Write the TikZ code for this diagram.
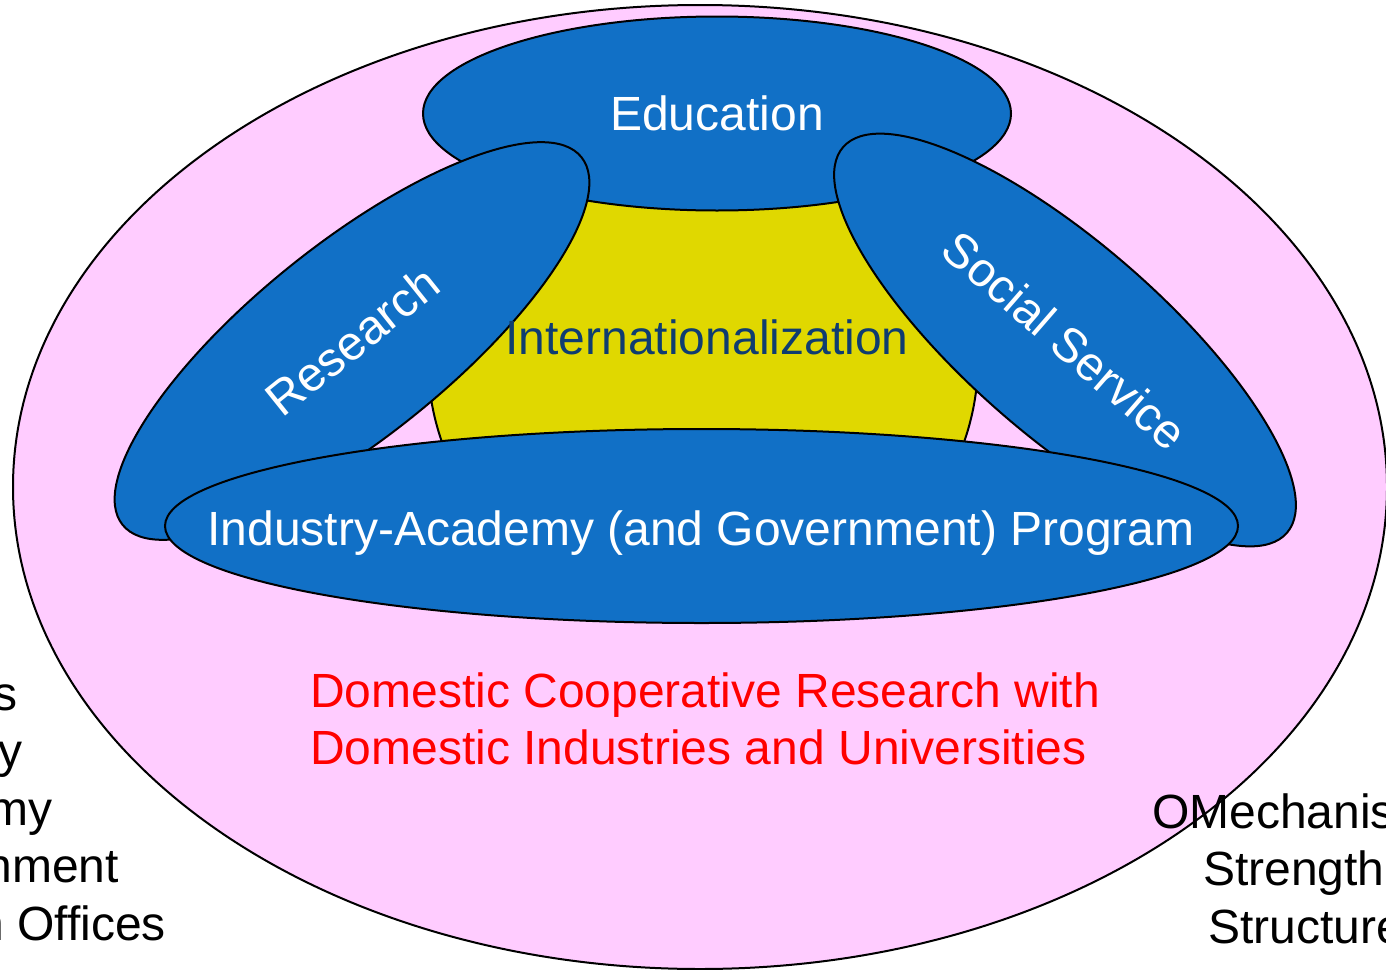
\documentclass[tikz,border=0pt]{standalone}
\usepackage{fontspec}
\setmainfont{Liberation Sans}
\usetikzlibrary{shapes.geometric}
\definecolor{ringpink}{HTML}{FFCCFF}
\definecolor{pillarblue}{HTML}{1170C6}
\definecolor{coreyellow}{HTML}{E0D800}
\definecolor{coretext}{HTML}{0F3D70}
\newcommand{\bigtext}{\fontsize{48}{57}\selectfont}

\begin{document}
\begin{tikzpicture}[x=1pt,y=1pt,
 blob/.style={ellipse,draw=black,line width=2pt,inner sep=0pt,font=\bigtext},
 pillar/.style={blob,fill=pillarblue,text=white,minimum width=588pt,minimum height=194pt},
 word/.style={inner sep=0pt,font=\bigtext}]
\useasboundingbox[fill=white] (0,0) rectangle (1386,-969);
% outer ring and the core behind the pillars
\node[blob,fill=ringpink,minimum width=1374pt,minimum height=964pt] (ring) at (700,-487) {};
\node[blob,fill=coreyellow,minimum width=550pt,minimum height=520pt] (core) at (703,-360) {};
\node[pillar] (edu) at (717,-113.5) {Education};
\node[pillar,rotate=38.7] (res) at (352,-341) {Research};
\node[pillar,rotate=-41] (soc) at (1065,-340) {Social Service};
\node[pillar,minimum width=1073pt] (ind) at (701.5,-526) {};
\node[word,text=white,anchor=base] (indtext) at (701,-545) {Industry-Academy (and Government) Program};
\node[word,text=coretext,anchor=base] (intl) at (707,-354) {Internationalization};
\node[word,text=red,anchor=base west] (dom1) at (310,-707) {Domestic Cooperative Research with};
\node[word,text=red,anchor=base west] (dom2) at (310,-764) {Domestic Industries and Universities};
% cut-off side texts
\node[word,anchor=base east] (l1) at (18,-710) {s};
\node[word,anchor=base east] (l2) at (23,-767) {y};
\node[word,anchor=base east] (l3) at (53,-825) {my};
\node[word,anchor=base east] (l4) at (119,-882) {nment};
\node[word,anchor=base east] (l5) at (166,-940) {n Offices};
\node[word,anchor=base west] (r1) at (1152,-828) {OMechanis};
\node[word,anchor=base west] (r2) at (1203,-885) {Strengthe};
\node[word,anchor=base west] (r3) at (1208,-943) {Structure};
\end{tikzpicture}
\end{document}
